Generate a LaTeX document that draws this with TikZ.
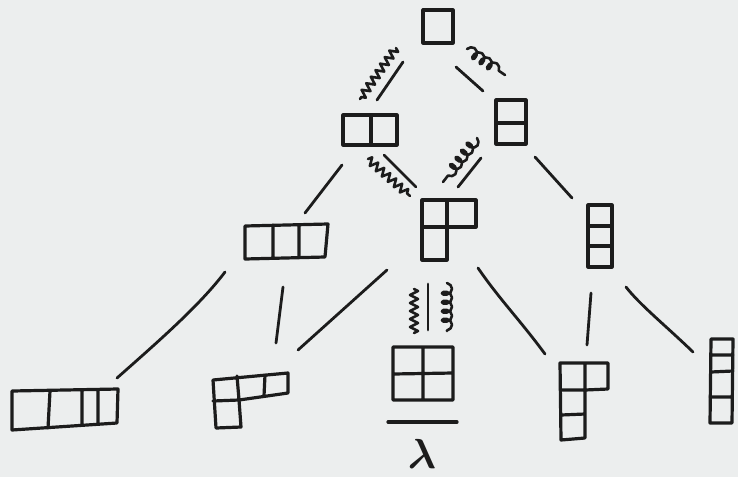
\RequirePackage{fix-cm}
\documentclass[tikz,border=0pt]{standalone}
\usepackage{bm}
\usetikzlibrary{decorations.pathmorphing}
\definecolor{paper}{HTML}{ECEEEE}
\definecolor{ink}{HTML}{1C1C1C}
\newcommand{\biglam}{\fontsize{42}{48}\selectfont$\bm{\lambda}$}
\begin{document}
\begin{tikzpicture}[x=1pt,y=-1pt,
  pen/.style={line width=3.2pt, draw=ink, line cap=round, line join=round},
  wire/.style={pen, line width=2.8pt},
  zig/.style={pen, line width=2.6pt, decorate, decoration={zigzag, amplitude=4pt, segment length=8pt}},
  curl/.style={pen, line width=2.6pt, decorate, decoration={coil, amplitude=5pt, segment length=9pt, aspect=0.7}},
  diag/.style={inner sep=0pt, draw=none},
  lamtext/.style={inner sep=0pt, text=ink}]
\fill[paper] (0,0) rectangle (738,477);
\useasboundingbox (0,0) rectangle (738,477);

% empty-level single box
\node[diag, minimum width=30pt, minimum height=33pt] (e) at (438,26.5) {};
\draw[pen] (423,10) rectangle (453,43);

% [2]
\node[diag, minimum width=54pt, minimum height=30pt] (h2) at (370,130) {};
\draw[pen] (343,115) rectangle (397,145) (371,115) -- (371,145);

% [1,1]
\node[diag, minimum width=30pt, minimum height=44pt] (v2) at (511,122) {};
\draw[pen] (496,100) rectangle (526,144) (496,123) -- (526,123);

% [3]
\node[diag, minimum width=83pt, minimum height=33pt] (h3) at (286.5,241.5) {};
\draw[pen] (245,226) -- (328,224) -- (325,257) -- (245,259) -- cycle
  (273,225) -- (273,258) (299,225) -- (299,257);

% [2,1]
\node[diag, minimum width=54pt, minimum height=60pt] (hook) at (449,230) {};
\draw[pen] (422,200) -- (476,200) -- (476,227) -- (447,227) -- (447,260) -- (422,260) -- cycle
  (447,200) -- (447,227) (422,227) -- (447,227);

% [1,1,1]
\node[diag, minimum width=24pt, minimum height=62pt] (v3) at (600,236) {};
\draw[pen] (588,205) rectangle (612,267) (588,226) -- (612,226) (588,246) -- (612,246);

% [4]
\node[diag, minimum width=106pt, minimum height=40pt] (h4) at (65,410) {};
\draw[pen] (12,391) -- (118,389) -- (117,423) -- (12,430) -- cycle
  (50,391) -- (48,428) (82,390) -- (82,425) (98,390) -- (98,424);

% [3,1]
\node[diag, minimum width=75pt, minimum height=54pt] (p31) at (250.5,400) {};
\draw[pen] (213,380) -- (288,373) -- (288,393) -- (239,400) -- (241,427) -- (216,428) -- cycle
  (213,401) -- (239,400) (237,376) -- (239,400) (265,375) -- (264,396);

% [2,2]
\node[diag, minimum width=60pt, minimum height=53pt] (sq) at (423,373.5) {};
\draw[pen] (393,347) rectangle (453,400) (423,347) -- (423,400) (393,374) -- (453,373);

% bar and lambda
\coordinate (barL) at (388,422);
\coordinate (barR) at (457,422);
\draw[pen] (barL) -- (barR);
\node[lamtext] (lam) at (422,454) {\biglam};

% [2,1,1]
\node[diag, minimum width=48pt, minimum height=76pt] (p211) at (584,400) {};
\draw[pen] (560,363) -- (608,363) -- (608,389) -- (585,390) -- (585,438) -- (561,440) -- cycle
  (585,363) -- (585,390) (560,390) -- (585,390) (561,415) -- (585,414);

% [1,1,1,1]
\node[diag, minimum width=23pt, minimum height=84pt] (v4) at (721.5,381) {};
\draw[pen] (711,339) -- (733,339) -- (732,423) -- (710,423) -- cycle
  (711,355) -- (733,355) (711,372) -- (733,371) (710,397) -- (732,397);

% connector end points
\coordinate (e-h2-s1) at (403,62);  \coordinate (e-h2-s2) at (377,100);
\coordinate (e-h2-z1) at (396,48);  \coordinate (e-h2-z2) at (360,99);
\coordinate (e-v2-s1) at (456,67);  \coordinate (e-v2-s2) at (483,91);
\coordinate (e-v2-c1) at (467,49);  \coordinate (e-v2-c2) at (505,75);

\coordinate (h2-hk-s1) at (384,155); \coordinate (h2-hk-s2) at (416,187);
\coordinate (h2-hk-z1) at (368,159); \coordinate (h2-hk-z2) at (410,196);
\coordinate (v2-hk-s1) at (481,158); \coordinate (v2-hk-s2) at (458,187);
\coordinate (v2-hk-c1) at (477,138); \coordinate (v2-hk-c2) at (443,182);

\coordinate (h2-h3-1) at (342,165); \coordinate (h2-h3-2) at (305,213);
\coordinate (v2-v3-1) at (535,157); \coordinate (v2-v3-2) at (572,198);

\coordinate (h3-h4-1) at (225,272); \coordinate (h3-h4-2) at (117,378);
\coordinate (h3-p31-1) at (283,287); \coordinate (h3-p31-2) at (276,343);
\coordinate (hk-p31-1) at (387,270); \coordinate (hk-p31-2) at (298,350);

\coordinate (hk-sq-z1) at (414,289); \coordinate (hk-sq-z2) at (414,333);
\coordinate (hk-sq-s1) at (428,284); \coordinate (hk-sq-s2) at (428,330);
\coordinate (hk-sq-c1) at (447,283); \coordinate (hk-sq-c2) at (447,331);

\coordinate (hk-p211-1) at (478,268); \coordinate (hk-p211-2) at (545,354);
\coordinate (v3-p211-1) at (591,293); \coordinate (v3-p211-2) at (587,345);
\coordinate (v3-v4-1) at (626,287); \coordinate (v3-v4-2) at (693,352);

% connectors
\draw[wire] (e-h2-s1) -- (e-h2-s2);
\draw[zig]  (e-h2-z1) -- (e-h2-z2);
\draw[wire] (e-v2-s1) -- (e-v2-s2);
\draw[curl] (e-v2-c1) -- (e-v2-c2);

\draw[wire] (h2-hk-s1) -- (h2-hk-s2);
\draw[zig]  (h2-hk-z1) -- (h2-hk-z2);
\draw[wire] (v2-hk-s1) -- (v2-hk-s2);
\draw[curl] (v2-hk-c1) -- (v2-hk-c2);

\draw[wire] (h2-h3-1) -- (h2-h3-2);
\draw[wire] (v2-v3-1) -- (v2-v3-2);

\draw[wire] (h3-h4-1) .. controls (200,305) and (160,340) .. (h3-h4-2);
\draw[wire] (h3-p31-1) -- (h3-p31-2);
\draw[wire] (hk-p31-1) -- (hk-p31-2);

\draw[zig]  (hk-sq-z1) -- (hk-sq-z2);
\draw[wire] (hk-sq-s1) -- (hk-sq-s2);
\draw[curl] (hk-sq-c1) -- (hk-sq-c2);

\draw[wire] (hk-p211-1) .. controls (500,300) and (520,320) .. (hk-p211-2);
\draw[wire] (v3-p211-1) -- (v3-p211-2);
\draw[wire] (v3-v4-1) .. controls (640,305) and (665,325) .. (v3-v4-2);
\end{tikzpicture}
\end{document}
